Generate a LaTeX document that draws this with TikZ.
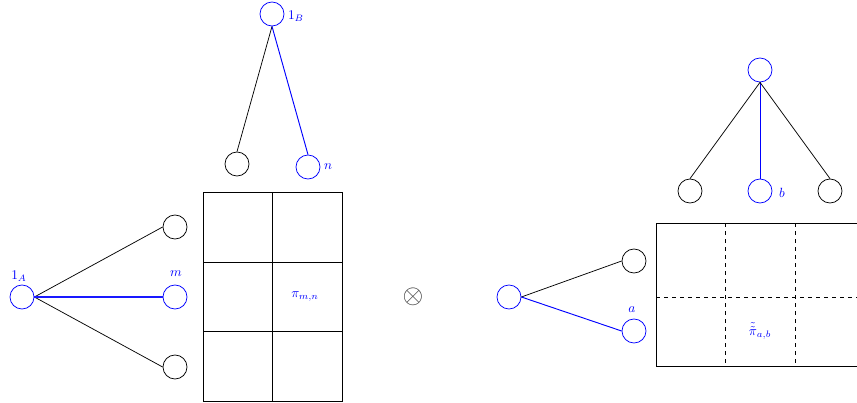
\documentclass[tikz,border=0pt]{standalone}
\begin{document}
\begin{tikzpicture}[x=0.75pt,y=-0.75pt,line width=0.55pt,
  vtx/.style={circle,draw=black,minimum size=18pt,inner sep=0pt},
  bvtx/.style={circle,draw=blue,minimum size=18pt,inner sep=0pt},
  lbl/.style={text=blue,inner sep=0pt},
  bl/.style={draw=blue,line width=0.7pt},
  blh/.style={draw=blue!90!white,line width=0.9pt}]
\useasboundingbox (0,0) rectangle (857,403);
% ---------- left part ----------
\node[bvtx] (oneA) at (22,297) {};
\node[lbl] (oneAl) at (19,276) {$1_A$};
\node[vtx] (c1) at (175,227) {};
\node[bvtx] (c2) at (175,297) {};
\node[lbl] (ml) at (176,274) {$m$};
\node[vtx] (c3) at (175,367) {};
\draw (oneA.east) -- (c1.west);
\draw (oneA.east) -- (c3.west);
\draw[blh] (oneA.east) -- (c2.west);
% grid
\draw (203,192) rectangle (342,401);
\draw (272,192) -- (272,401);
\draw (203,262) -- (342,262);
\draw (203,331) -- (342,331);
\node[lbl] (pimn) at (305,297) {$\pi_{m,n}$};
% top tree
\node[bvtx] (oneB) at (272,14) {};
\node[lbl] (oneBl) at (296,16) {$1_B$};
\node[vtx] (t1) at (237,164) {};
\node[bvtx] (t2) at (308,167) {};
\node[lbl] (nl) at (328,167) {$n$};
\draw (oneB.south) -- (t1.north);
\draw[bl] (oneB.south) -- (t2.north);
% tensor
\node[text=black!75,inner sep=0pt] (ot) at (413,297) {\scalebox{2}{$\otimes$}};
% ---------- right part ----------
\node[bvtx] (r0) at (509,297) {};
\node[vtx] (r1) at (634,261) {};
\node[bvtx] (r2) at (634,331) {};
\node[lbl] (al) at (632,310) {$a$};
\draw (r0.east) -- (r1.west);
\draw[bl] (r0.east) -- (r2.west);
% grid
\draw (656,223) rectangle (866,366);
\draw[dashed] (725,223) -- (725,366);
\draw[dashed] (795,223) -- (795,366);
\draw[dashed] (656,297) -- (866,297);
\node[lbl] (piab) at (760,331) {$\tilde{\tilde{\pi}}_{a,b}$};
% top tree
\node[bvtx] (s0) at (760,70) {};
\node[vtx] (s1) at (690,191) {};
\node[bvtx] (s2) at (760,191) {};
\node[lbl] (bb) at (782,193) {$b$};
\node[vtx] (s3) at (830,191) {};
\draw (s0.south) -- (s1.north);
\draw[bl] (s0.south) -- (s2.north);
\draw (s0.south) -- (s3.north);
\end{tikzpicture}
\end{document}
